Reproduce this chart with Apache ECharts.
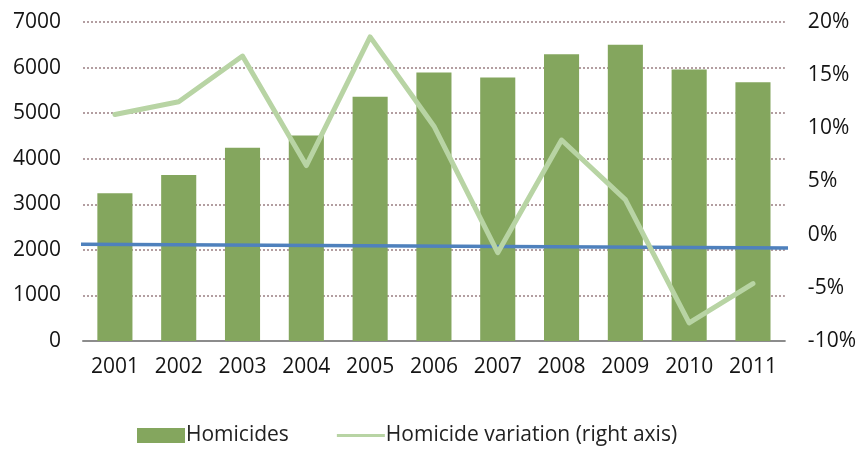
<!DOCTYPE html>
<html>
<head>
<meta charset="utf-8">
<script src="https://cdn.jsdelivr.net/npm/echarts@6/dist/echarts.min.js"></script>
<style>
html,body{margin:0;padding:0;background:#fff;}
#chart{width:859px;height:454px;}
</style>
</head>
<body>
<div id="chart"></div>
<script>
const years = ['2001','2002','2003','2004','2005','2006','2007','2008','2009','2010','2011'];
const homicides = [3240, 3640, 4240, 4510, 5360, 5890, 5780, 6290, 6500, 5960, 5680];
const variation = [11.3, 12.5, 16.8, 6.5, 18.6, 10.2, -1.7, 8.9, 3.3, -8.3, -4.6];
const leftTicks = {min: 0, max: 7000, interval: 1000};
const rightTicks = {min: -10, max: 20, interval: 5};
// blue reference line: [x position in category units, value on left axis]
const blueLine = [[-0.16, 2125], [11.16, 2040]];

const chart = echarts.init(document.getElementById('chart'));
const axisFont = {fontFamily: 'Open Sans', fontSize: 21, color: '#141414'};
chart.setOption({
  animation: false,
  grid: {left: 83, right: 74, top: 22, bottom: 113, containLabel: false},
  legend: {
    bottom: 3,
    left: 132,
    itemGap: 48,
    itemWidth: 48,
    itemHeight: 15,
    textStyle: {fontFamily: 'Open Sans', fontSize: 21, color: '#222', padding: [0, 0, 0, -4]},
    data: [
      {name: 'Homicides', icon: 'rect'},
      {name: 'Homicide variation (right axis)', icon: 'path://M0,0 L10,0 L10,0.6 L0,0.6 Z', itemStyle: {color: '#b8d4a4'}}
    ]
  },
  xAxis: [{
    type: 'category',
    data: years,
    axisTick: {show: false},
    axisLine: {show: true, lineStyle: {color: '#8c8c8c', width: 2}},
    axisLabel: Object.assign({margin: 16}, axisFont)
  }, {
    type: 'value',
    min: 0, max: 11,
    show: false
  }],
  yAxis: [{
    type: 'value',
    min: leftTicks.min, max: leftTicks.max, interval: leftTicks.interval,
    axisLine: {show: false},
    axisTick: {show: false},
    axisLabel: Object.assign({margin: 22, formatter: v => String(v)}, axisFont),
    splitLine: {show: true, lineStyle: {color: '#9a7f82', type: [2, 2], width: 1.5}}
  }, {
    type: 'value',
    min: rightTicks.min, max: rightTicks.max, interval: rightTicks.interval,
    axisLine: {show: false},
    axisTick: {show: false},
    axisLabel: Object.assign({margin: 23, formatter: v => v + '%'}, axisFont),
    splitLine: {show: false}
  }],
  series: [{
    name: 'Homicides',
    type: 'bar',
    data: homicides,
    barWidth: '55%',
    itemStyle: {color: '#84a65e'},
    z: 2
  }, {
    name: 'Blue line',
    type: 'line',
    xAxisIndex: 1,
    yAxisIndex: 0,
    data: blueLine,
    clip: false,
    symbol: 'none',
    lineStyle: {color: '#4f81bd', width: 3.5},
    z: 3
  }, {
    name: 'Homicide variation (right axis)',
    type: 'line',
    yAxisIndex: 1,
    data: variation,
    symbol: 'none',
    lineStyle: {color: '#b8d4a4', width: 5, cap: 'round', join: 'round'},
    itemStyle: {color: '#b8d4a4'},
    z: 4
  }]
});
</script>
</body>
</html>
